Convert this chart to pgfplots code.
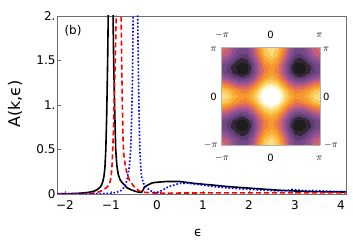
\documentclass[border=0pt]{standalone}
\usepackage{fontspec}
\setmainfont{DejaVu Sans}
\usepackage{pgfplots}
\pgfplotsset{compat=1.18}
\definecolor{framegray}{RGB}{110,110,110}
\begin{document}
\begin{tikzpicture}
\useasboundingbox (0pt,0pt) rectangle (353pt,249pt);
\begin{axis}[
  at={(57.5pt,55pt)}, anchor=south west, scale only axis,
  width=288.5pt, height=178pt,
  xmin=-2.16, xmax=4.11, ymin=0, ymax=2,
  xtick={-2,-1,0,1,2,3,4},
  xticklabels={−2,−1,0,1,2,3,4},
  ytick={0,0.5,1,1.5,2},
  yticklabels={0,0.5,1.,1.5,2.},
  tick align=inside, major tick length=3pt,
  xtick pos=bottom, ytick pos=left,
  axis line style={framegray, line width=0.6pt},
  tick style={framegray, line width=0.6pt},
  ticklabel style={font=\fontsize{12}{14}\selectfont},
  xticklabel style={yshift=-3pt},
  yticklabel style={xshift=1.5pt},
]
\addplot[black, line width=1.6pt] coordinates {
(-2.16,0.002) (-1.9,0.004) (-1.7,0.008) (-1.55,0.014) (-1.45,0.022) (-1.35,0.035)
(-1.28,0.055) (-1.22,0.085) (-1.18,0.13) (-1.15,0.2) (-1.13,0.29) (-1.11,0.5)
(-1.09,0.9) (-1.07,1.5) (-1.055,2.1) (-1.005,6) (-0.955,2.1) (-0.94,1.5)
(-0.915,0.9) (-0.895,0.5) (-0.87,0.32) (-0.84,0.22) (-0.8,0.16) (-0.74,0.12)
(-0.65,0.07) (-0.55,0.045) (-0.45,0.028) (-0.38,0.018) (-0.33,0.02) (-0.30,0.045)
(-0.27,0.08) (-0.2,0.1) (-0.1,0.125) (0,0.132) (0.2,0.14) (0.5,0.14) (0.8,0.12)
(1.0,0.11) (1.22,0.1) (1.5,0.085) (1.95,0.068) (2.3,0.055) (2.67,0.042)
(3.0,0.034) (3.4,0.027) (3.8,0.024) (4.11,0.022)
};
\addplot[red, line width=1.6pt, dash pattern=on 5pt off 3pt] coordinates {
(-2.16,0.001) (-1.8,0.002) (-1.5,0.005) (-1.35,0.012) (-1.25,0.025) (-1.17,0.045)
(-1.1,0.07) (-1.04,0.1) (-1.01,0.15) (-0.99,0.22) (-0.975,0.32) (-0.96,0.5)
(-0.945,0.7) (-0.93,1.0) (-0.905,1.5) (-0.88,2.1) (-0.83,6) (-0.78,2.1)
(-0.765,1.5) (-0.75,1.0) (-0.735,0.6) (-0.72,0.45) (-0.69,0.33) (-0.65,0.23)
(-0.6,0.16) (-0.55,0.12) (-0.5,0.085) (-0.45,0.06) (-0.37,0.03) (-0.25,0.018)
(-0.1,0.012) (0.2,0.01) (1,0.012) (2,0.013) (3,0.012) (4.11,0.012)
};
\addplot[blue, line width=1.6pt, dash pattern=on 1.6pt off 1.9pt] coordinates {
(-2.16,0.002) (-1.5,0.002) (-1.2,0.004) (-1.0,0.008) (-0.87,0.02) (-0.78,0.04)
(-0.72,0.07) (-0.67,0.12) (-0.64,0.19) (-0.6,0.3) (-0.57,0.5) (-0.55,0.83)
(-0.53,1.3) (-0.515,2.1) (-0.467,6) (-0.42,2.1) (-0.40,1.3) (-0.385,0.83)
(-0.37,0.5) (-0.35,0.3) (-0.33,0.19) (-0.29,0.12) (-0.22,0.07) (-0.15,0.04)
(-0.07,0.02) (0.0,0.015) (0.07,0.03) (0.14,0.05) (0.21,0.07) (0.3,0.09)
(0.4,0.105) (0.5,0.12) (0.7,0.12) (1.0,0.1) (1.2,0.085) (1.5,0.07) (1.95,0.053)
(2.3,0.043) (2.67,0.034) (2.85,0.04) (2.95,0.052) (3.05,0.045) (3.2,0.036)
(3.4,0.04) (3.6,0.035) (3.8,0.03) (4.11,0.027)
};
\end{axis}
\begin{axis}[
  at={(221pt,104pt)}, anchor=south west, scale only axis,
  width=99pt, height=97.5pt, view={0}{90},
  xmin=-8, xmax=8, ymin=-8, ymax=8,
  xtick=\empty, ytick=\empty, ztick=\empty,
  axis on top,
  axis line style={gray!60, line width=0.8pt},
  point meta min=-0.25, point meta max=1.15,
  colormap={sunset}{rgb255(0pt)=(30,28,30); rgb255(8pt)=(40,35,42);
    rgb255(15pt)=(85,55,100); rgb255(25pt)=(110,70,130); rgb255(37pt)=(135,80,145);
    rgb255(50pt)=(175,90,140); rgb255(63pt)=(215,100,105); rgb255(73pt)=(235,125,65);
    rgb255(83pt)=(245,150,45); rgb255(95pt)=(250,180,60); rgb255(107pt)=(252,210,100);
    rgb255(117pt)=(253,235,160); rgb255(125pt)=(255,255,255); rgb255(140pt)=(255,255,255)},
]
\addplot3[contour filled={number=16}, mesh/cols=17, mesh/rows=17] table[row sep=\\] {
x y z\\
-8 -8 0.420\\ -7 -8 0.352\\ -6 -8 0.196\\ -5 -8 0.064\\ -4 -8 0.067\\ -3 -8 0.240\\ -2 -8 0.521\\ -1 -8 0.777\\ 0 -8 0.880\\ 1 -8 0.777\\ 2 -8 0.521\\ 3 -8 0.240\\ 4 -8 0.067\\ 5 -8 0.064\\ 6 -8 0.196\\ 7 -8 0.352\\ 8 -8 0.420\\
-8 -7 0.352\\ -7 -7 0.286\\ -6 -7 0.133\\ -5 -7 0.006\\ -4 -7 0.012\\ -3 -7 0.187\\ -2 -7 0.469\\ -1 -7 0.724\\ 0 -7 0.827\\ 1 -7 0.724\\ 2 -7 0.469\\ 3 -7 0.187\\ 4 -7 0.012\\ 5 -7 0.006\\ 6 -7 0.133\\ 7 -7 0.286\\ 8 -7 0.352\\
-8 -6 0.196\\ -7 -6 0.133\\ -6 -6 -0.011\\ -5 -6 -0.127\\ -4 -6 -0.112\\ -3 -6 0.067\\ -2 -6 0.347\\ -1 -6 0.601\\ 0 -6 0.702\\ 1 -6 0.601\\ 2 -6 0.347\\ 3 -6 0.067\\ 4 -6 -0.112\\ 5 -6 -0.127\\ 6 -6 -0.011\\ 7 -6 0.133\\ 8 -6 0.196\\
-8 -5 0.064\\ -7 -5 0.006\\ -6 -5 -0.127\\ -5 -5 -0.232\\ -4 -5 -0.209\\ -3 -5 -0.030\\ -2 -5 0.246\\ -1 -5 0.493\\ 0 -5 0.592\\ 1 -5 0.493\\ 2 -5 0.246\\ 3 -5 -0.030\\ 4 -5 -0.209\\ 5 -5 -0.232\\ 6 -5 -0.127\\ 7 -5 0.006\\ 8 -5 0.064\\
-8 -4 0.067\\ -7 -4 0.012\\ -6 -4 -0.112\\ -5 -4 -0.209\\ -4 -4 -0.186\\ -3 -4 -0.013\\ -2 -4 0.250\\ -1 -4 0.486\\ 0 -4 0.580\\ 1 -4 0.486\\ 2 -4 0.250\\ 3 -4 -0.013\\ 4 -4 -0.186\\ 5 -4 -0.209\\ 6 -4 -0.112\\ 7 -4 0.012\\ 8 -4 0.067\\
-8 -3 0.240\\ -7 -3 0.187\\ -6 -3 0.067\\ -5 -3 -0.030\\ -4 -3 -0.013\\ -3 -3 0.145\\ -2 -3 0.388\\ -1 -3 0.608\\ 0 -3 0.695\\ 1 -3 0.608\\ 2 -3 0.388\\ 3 -3 0.145\\ 4 -3 -0.013\\ 5 -3 -0.030\\ 6 -3 0.067\\ 7 -3 0.187\\ 8 -3 0.240\\
-8 -2 0.521\\ -7 -2 0.469\\ -6 -2 0.347\\ -5 -2 0.246\\ -4 -2 0.250\\ -3 -2 0.388\\ -2 -2 0.610\\ -1 -2 0.812\\ 0 -2 0.893\\ 1 -2 0.812\\ 2 -2 0.610\\ 3 -2 0.388\\ 4 -2 0.250\\ 5 -2 0.246\\ 6 -2 0.347\\ 7 -2 0.469\\ 8 -2 0.521\\
-8 -1 0.777\\ -7 -1 0.724\\ -6 -1 0.601\\ -5 -1 0.493\\ -4 -1 0.486\\ -3 -1 0.608\\ -2 -1 0.812\\ -1 -1 1.000\\ 0 -1 1.076\\ 1 -1 1.000\\ 2 -1 0.812\\ 3 -1 0.608\\ 4 -1 0.486\\ 5 -1 0.493\\ 6 -1 0.601\\ 7 -1 0.724\\ 8 -1 0.777\\
-8 0 0.880\\ -7 0 0.827\\ -6 0 0.702\\ -5 0 0.592\\ -4 0 0.580\\ -3 0 0.695\\ -2 0 0.893\\ -1 0 1.076\\ 0 0 1.150\\ 1 0 1.076\\ 2 0 0.893\\ 3 0 0.695\\ 4 0 0.580\\ 5 0 0.592\\ 6 0 0.702\\ 7 0 0.827\\ 8 0 0.880\\
-8 1 0.777\\ -7 1 0.724\\ -6 1 0.601\\ -5 1 0.493\\ -4 1 0.486\\ -3 1 0.608\\ -2 1 0.812\\ -1 1 1.000\\ 0 1 1.076\\ 1 1 1.000\\ 2 1 0.812\\ 3 1 0.608\\ 4 1 0.486\\ 5 1 0.493\\ 6 1 0.601\\ 7 1 0.724\\ 8 1 0.777\\
-8 2 0.521\\ -7 2 0.469\\ -6 2 0.347\\ -5 2 0.246\\ -4 2 0.250\\ -3 2 0.388\\ -2 2 0.610\\ -1 2 0.812\\ 0 2 0.893\\ 1 2 0.812\\ 2 2 0.610\\ 3 2 0.388\\ 4 2 0.250\\ 5 2 0.246\\ 6 2 0.347\\ 7 2 0.469\\ 8 2 0.521\\
-8 3 0.240\\ -7 3 0.187\\ -6 3 0.067\\ -5 3 -0.030\\ -4 3 -0.013\\ -3 3 0.145\\ -2 3 0.388\\ -1 3 0.608\\ 0 3 0.695\\ 1 3 0.608\\ 2 3 0.388\\ 3 3 0.145\\ 4 3 -0.013\\ 5 3 -0.030\\ 6 3 0.067\\ 7 3 0.187\\ 8 3 0.240\\
-8 4 0.067\\ -7 4 0.012\\ -6 4 -0.112\\ -5 4 -0.209\\ -4 4 -0.186\\ -3 4 -0.013\\ -2 4 0.250\\ -1 4 0.486\\ 0 4 0.580\\ 1 4 0.486\\ 2 4 0.250\\ 3 4 -0.013\\ 4 4 -0.186\\ 5 4 -0.209\\ 6 4 -0.112\\ 7 4 0.012\\ 8 4 0.067\\
-8 5 0.064\\ -7 5 0.006\\ -6 5 -0.127\\ -5 5 -0.232\\ -4 5 -0.209\\ -3 5 -0.030\\ -2 5 0.246\\ -1 5 0.493\\ 0 5 0.592\\ 1 5 0.493\\ 2 5 0.246\\ 3 5 -0.030\\ 4 5 -0.209\\ 5 5 -0.232\\ 6 5 -0.127\\ 7 5 0.006\\ 8 5 0.064\\
-8 6 0.196\\ -7 6 0.133\\ -6 6 -0.011\\ -5 6 -0.127\\ -4 6 -0.112\\ -3 6 0.067\\ -2 6 0.347\\ -1 6 0.601\\ 0 6 0.702\\ 1 6 0.601\\ 2 6 0.347\\ 3 6 0.067\\ 4 6 -0.112\\ 5 6 -0.127\\ 6 6 -0.011\\ 7 6 0.133\\ 8 6 0.196\\
-8 7 0.352\\ -7 7 0.286\\ -6 7 0.133\\ -5 7 0.006\\ -4 7 0.012\\ -3 7 0.187\\ -2 7 0.469\\ -1 7 0.724\\ 0 7 0.827\\ 1 7 0.724\\ 2 7 0.469\\ 3 7 0.187\\ 4 7 0.012\\ 5 7 0.006\\ 6 7 0.133\\ 7 7 0.286\\ 8 7 0.352\\
-8 8 0.420\\ -7 8 0.352\\ -6 8 0.196\\ -5 8 0.064\\ -4 8 0.067\\ -3 8 0.240\\ -2 8 0.521\\ -1 8 0.777\\ 0 8 0.880\\ 1 8 0.777\\ 2 8 0.521\\ 3 8 0.240\\ 4 8 0.067\\ 5 8 0.064\\ 6 8 0.196\\ 7 8 0.352\\ 8 8 0.420\\
};
\end{axis}
% labels
\node[rotate=90, font=\fontsize{16}{19}\selectfont] at (15pt,145pt) {A(k,ϵ)};
\node[font=\fontsize{13}{15}\selectfont] at (198pt,16pt) {ϵ};
\node[font=\fontsize{12}{14}\selectfont] at (73pt,218pt) {(b)};
% inset tick labels
\begin{scope}[every node/.style={font=\fontsize{10}{12}\selectfont, inner sep=0pt}]
\node at (222pt,214pt) {$-\pi$};
\node at (270.5pt,214pt) {0};
\node at (319.5pt,214pt) {$\pi$};
\node[anchor=east] at (217pt,200pt) {$\pi$};
\node[anchor=east] at (217pt,152pt) {0};
\node[anchor=east] at (218pt,104pt) {$-\pi$};
\node[anchor=west] at (323pt,200pt) {$\pi$};
\node[anchor=west] at (323pt,152pt) {0};
\node[anchor=west] at (324pt,104pt) {$-\pi$};
\node at (222pt,91pt) {$-\pi$};
\node at (270.5pt,91pt) {0};
\node at (319.5pt,91pt) {$\pi$};
\end{scope}
\end{tikzpicture}
\end{document}
